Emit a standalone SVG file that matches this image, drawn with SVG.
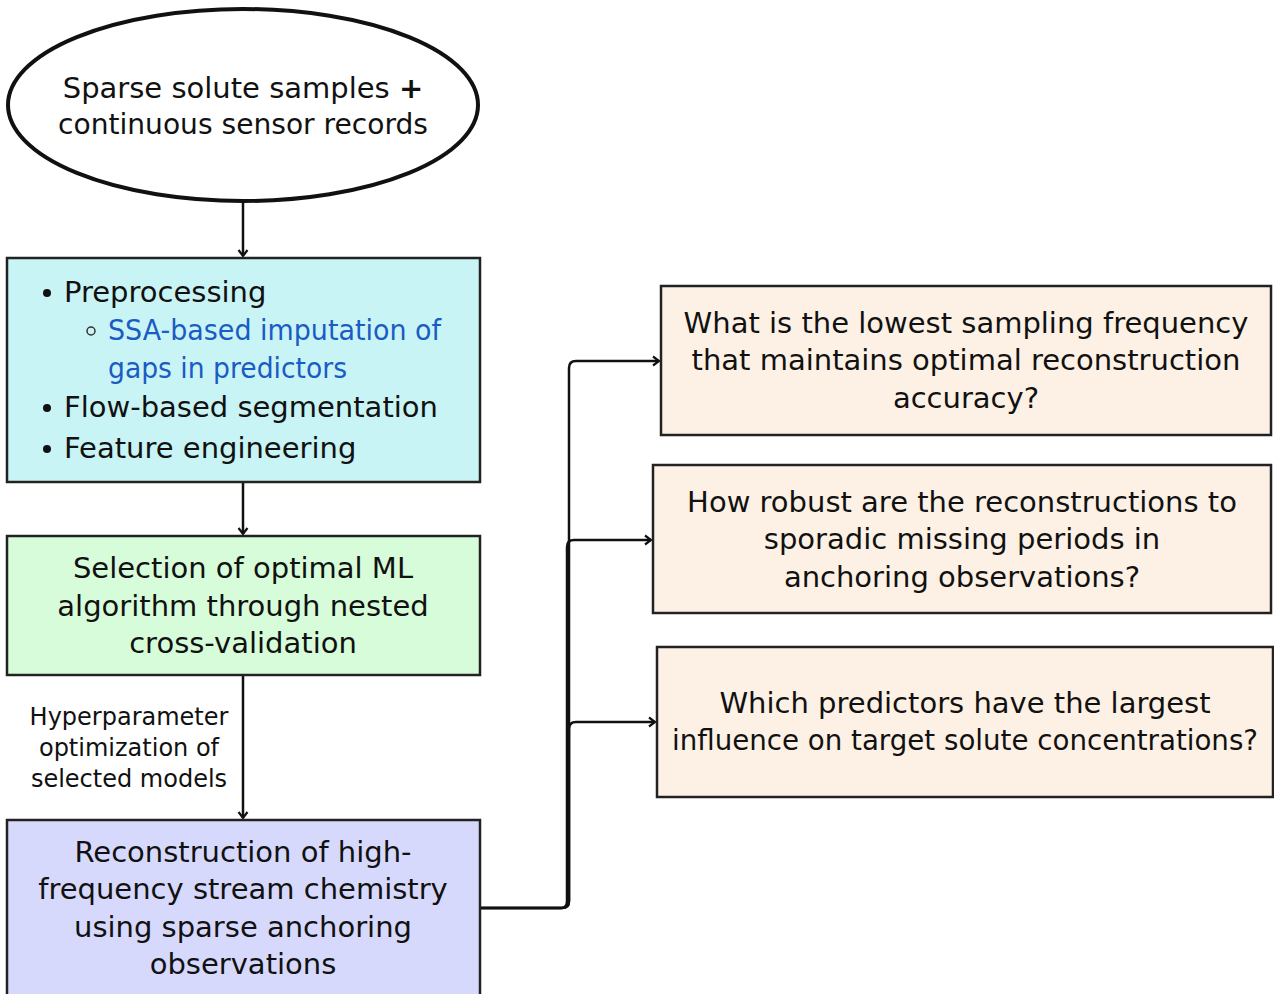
<svg xmlns="http://www.w3.org/2000/svg" width="1274" height="994" viewBox="0 0 1274 994">
<defs>
<marker id="arr" markerWidth="12" markerHeight="12" refX="10" refY="6" orient="auto" markerUnits="userSpaceOnUse">
<polyline points="4,1.5 10,6 4,10.5" fill="none" stroke="#111" stroke-width="2.2"/>
</marker>
</defs>
<style>
text{font-family:"DejaVu Sans","Liberation Sans",sans-serif;fill:#111;}
.t{font-size:29px;}
.c{text-anchor:middle;}
.lbl{font-size:24px;}
.box{stroke:#222;stroke-width:2.5;}
.con{fill:none;stroke:#111;stroke-width:2.5;}
.blue{fill:#1a5bc4;}
</style>
<rect width="1274" height="994" fill="#fff"/>
<g id="connectors">
<path class="con" d="M243,203 V256" marker-end="url(#arr)"/>
<path class="con" d="M243,482 V534" marker-end="url(#arr)"/>
<path class="con" d="M243,675 V818" marker-end="url(#arr)"/>
<path class="con" d="M480,908 H562 Q569,908 569,901 V368 Q569,361 576,361 H659" marker-end="url(#arr)"/>
<path class="con" d="M480,908 H561 Q567,908 567,901 V547 Q567,540 574,540 H651" marker-end="url(#arr)"/>
<path class="con" d="M480,908 H562 Q569,908 569,901 V729 Q569,722 576,722 H655" marker-end="url(#arr)"/>
<text class="lbl c" x="129" y="725">Hyperparameter</text>
<text class="lbl c" x="129" y="756">optimization of</text>
<text class="lbl c" x="129" y="787">selected models</text>
</g>
<g id="input">
<ellipse cx="243" cy="105" rx="235" ry="96" fill="#fff" stroke="#111" stroke-width="4"/>
<text class="t c" x="243" y="98">Sparse solute samples <tspan font-weight="bold">+</tspan></text>
<text class="t c" x="243" y="134" textLength="370" lengthAdjust="spacingAndGlyphs">continuous sensor records</text>
</g>
<g id="preprocessing">
<rect class="box" x="7" y="258" width="473" height="224" fill="#c9f4f5"/>
<circle cx="47" cy="293" r="4" fill="#111"/>
<text class="t" x="64" y="302">Preprocessing</text>
<circle cx="91" cy="331" r="4" fill="none" stroke="#333" stroke-width="1.5"/>
<text class="t blue" x="108" y="340" textLength="333" lengthAdjust="spacingAndGlyphs">SSA-based imputation of</text>
<text class="t blue" x="108" y="378" textLength="239" lengthAdjust="spacingAndGlyphs">gaps in predictors</text>
<circle cx="47" cy="408" r="4" fill="#111"/>
<text class="t" x="64" y="417">Flow-based segmentation</text>
<circle cx="47" cy="449" r="4" fill="#111"/>
<text class="t" x="64" y="458">Feature engineering</text>
</g>
<g id="selection">
<rect class="box" x="7" y="536" width="473" height="139" fill="#d7fcd9"/>
<text class="t c" x="243" y="578">Selection of optimal ML</text>
<text class="t c" x="243" y="616">algorithm through nested</text>
<text class="t c" x="243" y="653">cross-validation</text>
</g>
<g id="reconstruction">
<rect class="box" x="7" y="820" width="473" height="180" fill="#d7d9fc"/>
<text class="t c" x="243" y="862">Reconstruction of high-</text>
<text class="t c" x="243" y="899">frequency stream chemistry</text>
<text class="t c" x="243" y="937">using sparse anchoring</text>
<text class="t c" x="243" y="974">observations</text>
</g>
<g id="q1">
<rect class="box" x="661" y="286" width="610" height="149" fill="#fdf1e5"/>
<text class="t c" x="966" y="333">What is the lowest sampling frequency</text>
<text class="t c" x="966" y="370">that maintains optimal reconstruction</text>
<text class="t c" x="966" y="408">accuracy?</text>
</g>
<g id="q2">
<rect class="box" x="653" y="465" width="618" height="148" fill="#fdf1e5"/>
<text class="t c" x="962" y="512">How robust are the reconstructions to</text>
<text class="t c" x="962" y="549">sporadic missing periods in</text>
<text class="t c" x="962" y="587">anchoring observations?</text>
</g>
<g id="q3">
<rect class="box" x="657" y="647" width="616" height="150" fill="#fdf1e5"/>
<text class="t c" x="965" y="713">Which predictors have the largest</text>
<text class="c" x="965" y="750" font-size="28" textLength="586" lengthAdjust="spacingAndGlyphs">influence on target solute concentrations?</text>
</g>
</svg>
